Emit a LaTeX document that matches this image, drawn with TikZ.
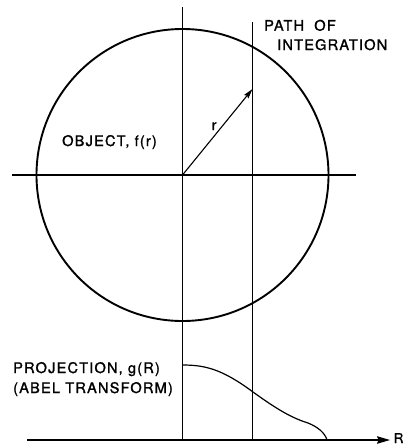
\documentclass[tikz,border=0pt]{standalone}
\usepackage{fontspec}
\setmainfont{TeX Gyre Heros}
\newfontfamily\lblfont[LetterSpace=8,FakeBold=1.4]{TeX Gyre Heros}
\newfontfamily\rfont[FakeBold=1.4]{TeX Gyre Heros}
\usetikzlibrary{arrows.meta}
\begin{document}
\begin{tikzpicture}[x=1pt,y=-1pt,
  thinline/.style={line width=1.1pt},
  thickline/.style={line width=1.9pt},
  lbl/.style={anchor=base west,inner sep=0pt,font=\fontsize{14.6}{16}\lblfont}]
\useasboundingbox (0,0) rectangle (406,445);
% key points
\coordinate (O) at (182.5,175);
\coordinate (vtop) at (182.5,7);
\coordinate (vbot) at (182.5,440);
\coordinate (ptop) at (252.5,22);
\coordinate (pbot) at (252.5,440);
\coordinate (hl) at (12,175);
\coordinate (hr) at (356,175);
\coordinate (al) at (27,440);
\coordinate (ar) at (390,440);
\coordinate (tip) at (252.5,89);
% circle
\draw[thickline] (O) circle[radius=146];
% axes and lines
\draw[thinline] (hl) -- (hr);
\draw[thinline] (vtop) -- (vbot);
\draw[thinline] (ptop) -- (pbot);
\draw[thinline,-{Stealth[length=13pt,width=7.5pt,inset=1.5pt]}] (al) -- (ar);
% radius arrow
\draw[thinline,-{Stealth[length=10pt,width=5.5pt,inset=1.5pt]}] (O) -- (tip);
\fill (O) circle[radius=1.6];
% projection curve
\coordinate (g0) at (182.5,365);
\coordinate (gend) at (327,440);
\draw[line width=1.2pt] (g0) .. controls (205,365) and (222,369) .. (253,392)
  .. controls (278,410) and (292,418) .. (308,423)
  .. controls (318,427) and (325,433) .. (gend);
% labels
\node[lbl] (path1) at (264,30.7) {PATH\hspace{0.7em}OF};
\node[lbl] (path2) at (277,50) {INTEGRATION};
\node[lbl] (obj) at (62,146) {OBJECT, f(r)};
\node[lbl] (proj1) at (13,373) {PROJECTION, g(R)};
\node[lbl] (proj2) at (13,393) {(ABEL TRANSFORM)};
\node[lbl,font=\fontsize{13.5}{16}\rfont] (Rlab) at (393.5,443) {R};
\node[lbl] (rlab) at (211.5,130) {r};
\end{tikzpicture}
\end{document}
